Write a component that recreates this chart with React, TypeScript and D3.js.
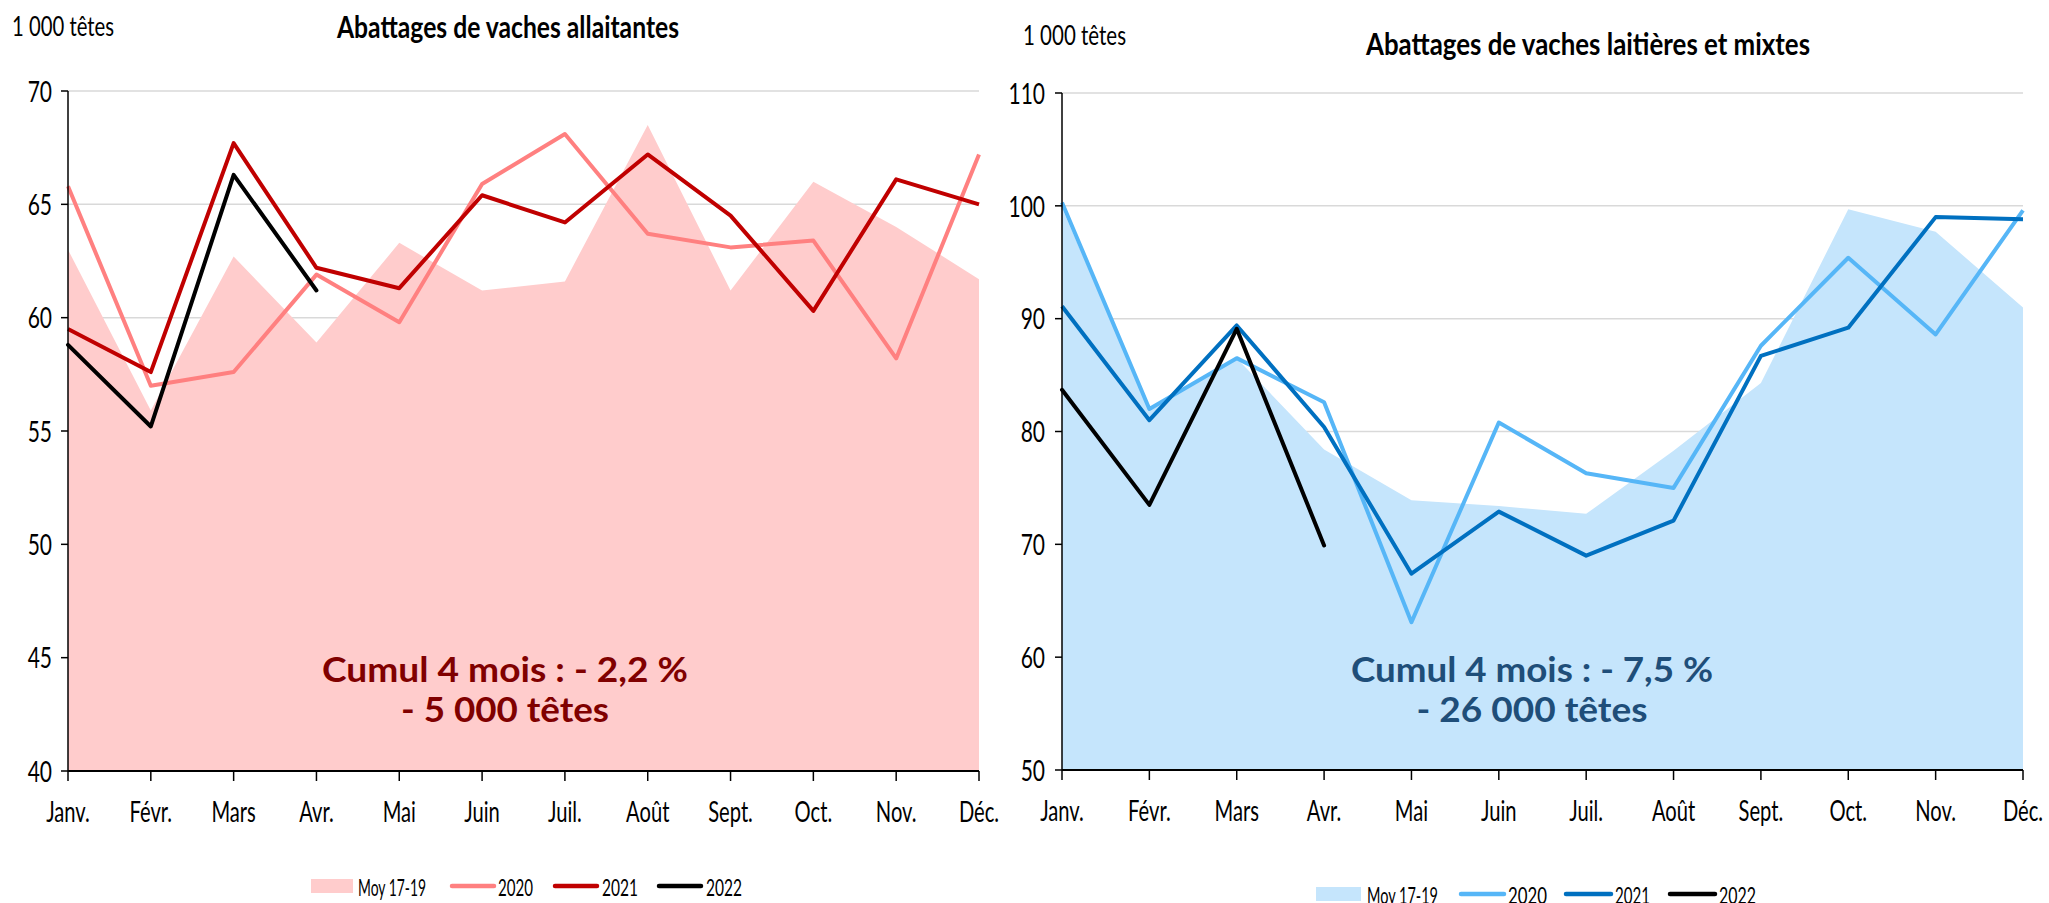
import React from "react";
import * as d3 from "d3";

const months = ["Janv.", "Févr.", "Mars", "Avr.", "Mai", "Juin", "Juil.", "Août", "Sept.", "Oct.", "Nov.", "Déc."];

// Abattages de vaches allaitantes (1 000 têtes)
const allaitMoy = [63.0, 55.9, 62.7, 58.9, 63.3, 61.2, 61.6, 68.5, 61.2, 66.0, 64.0, 61.7];
const allait2020 = [65.8, 57.0, 57.6, 61.9, 59.8, 65.9, 68.1, 63.7, 63.1, 63.4, 58.2, 67.2];
const allait2021 = [59.5, 57.6, 67.7, 62.2, 61.3, 65.4, 64.2, 67.2, 64.5, 60.3, 66.1, 65.0];
const allait2022 = [58.8, 55.2, 66.3, 61.2];
const allaitTicks = [40, 45, 50, 55, 60, 65, 70];

// Abattages de vaches laitières et mixtes (1 000 têtes)
const laitMoy = [99.8, 82.0, 86.5, 78.4, 73.9, 73.4, 72.7, 78.3, 84.3, 99.7, 97.7, 91.0];
const lait2020 = [100.3, 82.0, 86.5, 82.6, 63.1, 80.8, 76.3, 75.0, 87.6, 95.4, 88.6, 99.6];
const lait2021 = [91.1, 81.0, 89.4, 80.4, 67.4, 72.9, 69.0, 72.1, 86.7, 89.2, 99.0, 98.8];
const lait2022 = [83.7, 73.5, 89.1, 69.9];
const laitTicks = [50, 60, 70, 80, 90, 100, 110];

const legendLabels = ["Moy 17-19", "2020", "2021", "2022"];

const TICK_FONT = "Lato, 'Liberation Sans', sans-serif";
const ANN_FONT = "Lato, 'Open Sans', sans-serif";

type PanelProps = {
  x0: number; x1: number; yTop: number; yBot: number;
  domain: [number, number]; ticks: number[];
  moy: number[]; s2020: number[]; s2021: number[]; s2022: number[];
  colors: { area: string; c2020: string; c2021: string; c2022: string; ann: string };
  labelRight: number;
  unit: { x: number; y: number; w: number };
  title: { text: string; x: number; y: number; w: number };
  ann: { l1: string; l2: string; cx: number; y1: number; y2: number; w1: number; w2: number };
  legend: { y: number; items: { lx: number; lw: number; tx: number; tw: number }[] };
};

function Panel(p: PanelProps) {
  const x = d3.scalePoint<number>().domain(d3.range(12)).range([p.x0, p.x1]);
  const y = d3.scaleLinear().domain(p.domain).range([p.yBot, p.yTop]);
  const area = d3.area<number>().x((_, i) => x(i)!).y0(p.yBot).y1((d) => y(d));
  const line = d3.line<number>().x((_, i) => x(i)!).y((d) => y(d));
  const lw = 4;
  return (
    <g>
      {p.ticks.filter((t) => t !== p.domain[0]).map((t) => (
        <line key={"g" + t} x1={p.x0} x2={p.x1} y1={y(t)} y2={y(t)} stroke="#D9D9D9" strokeWidth={1.5} />
      ))}
      <path d={area(p.moy)!} fill={p.colors.area} />
      <path d={line(p.s2020)!} fill="none" stroke={p.colors.c2020} strokeWidth={lw} strokeLinejoin="round" />
      <path d={line(p.s2021)!} fill="none" stroke={p.colors.c2021} strokeWidth={lw} strokeLinejoin="round" />
      <path d={line(p.s2022)!} fill="none" stroke={p.colors.c2022} strokeWidth={lw} strokeLinejoin="round" strokeLinecap="round" />
      <line x1={p.x0} x2={p.x0} y1={p.yTop} y2={p.yBot} stroke="#000" strokeWidth={1.5} />
      <line x1={p.x0} x2={p.x1} y1={p.yBot} y2={p.yBot} stroke="#000" strokeWidth={2} />
      {p.ticks.map((t) => (
        <g key={"yt" + t}>
          <line x1={p.x0 - 7} x2={p.x0} y1={y(t)} y2={y(t)} stroke="#000" strokeWidth={1.5} />
          <text transform={`translate(${p.labelRight},${y(t)}) scale(0.75,1)`} textAnchor="end" dominantBaseline="central"
            fontFamily={TICK_FONT} fontSize={28} fill="#000">{t}</text>
        </g>
      ))}
      {months.map((m, i) => (
        <g key={"xt" + i}>
          <line x1={x(i)} x2={x(i)} y1={p.yBot} y2={p.yBot + 10} stroke="#000" strokeWidth={1.5} />
          <text transform={`translate(${x(i)},${p.yBot + 51}) scale(0.72,1)`} textAnchor="middle"
            fontFamily={TICK_FONT} fontSize={28} fill="#000">{m}</text>
        </g>
      ))}
      <text x={p.unit.x} y={p.unit.y} fontFamily={TICK_FONT} fontSize={27} textLength={p.unit.w} lengthAdjust="spacingAndGlyphs">1 000 têtes</text>
      <text x={p.title.x} y={p.title.y} fontFamily={TICK_FONT} fontWeight="bold" fontSize={31} textLength={p.title.w} lengthAdjust="spacingAndGlyphs">{p.title.text}</text>
      <text x={p.ann.cx - p.ann.w1 / 2} y={p.ann.y1} fontFamily={ANN_FONT} fontWeight="bold" fontSize={35} fill={p.colors.ann}
        textLength={p.ann.w1} lengthAdjust="spacingAndGlyphs">{p.ann.l1}</text>
      <text x={p.ann.cx - p.ann.w2 / 2} y={p.ann.y2} fontFamily={ANN_FONT} fontWeight="bold" fontSize={35} fill={p.colors.ann}
        textLength={p.ann.w2} lengthAdjust="spacingAndGlyphs">{p.ann.l2}</text>
      {p.legend.items.map((it, i) => (
        <g key={"lg" + i}>
          {i === 0 ? (
            <rect x={it.lx} y={p.legend.y - 7} width={it.lw} height={14} fill={p.colors.area} />
          ) : (
            <line x1={it.lx} x2={it.lx + it.lw} y1={p.legend.y} y2={p.legend.y}
              stroke={[p.colors.c2020, p.colors.c2021, p.colors.c2022][i - 1]} strokeWidth={4.5} strokeLinecap="round" />
          )}
          <text x={it.tx} y={p.legend.y} dominantBaseline="central" fontFamily={TICK_FONT} fontSize={24}
            textLength={it.tw} lengthAdjust="spacingAndGlyphs">{legendLabels[i]}</text>
        </g>
      ))}
    </g>
  );
}

export default function App() {
  return (
    <svg width={2049} height={903} style={{ position: "absolute", left: 0, top: 0, background: "#fff" }}>
      <rect x={0} y={0} width={2049} height={903} fill="#fff" />
      <Panel
        x0={68} x1={979} yTop={91} yBot={771} domain={[40, 70]} ticks={allaitTicks}
        moy={allaitMoy} s2020={allait2020} s2021={allait2021} s2022={allait2022}
        colors={{ area: "#FFCCCC", c2020: "#FF8080", c2021: "#C00000", c2022: "#000000", ann: "#800000" }}
        labelRight={52}
        unit={{ x: 12, y: 36, w: 102 }}
        title={{ text: "Abattages de vaches allaitantes", x: 337, y: 38, w: 342 }}
        ann={{ l1: "Cumul 4 mois : - 2,2 %", l2: "- 5 000 têtes", cx: 505, y1: 682, y2: 722, w1: 366, w2: 208 }}
        legend={{
          y: 886,
          items: [
            { lx: 311, lw: 42, tx: 358, tw: 68 },
            { lx: 452, lw: 42, tx: 498, tw: 35 },
            { lx: 555, lw: 42, tx: 602, tw: 36 },
            { lx: 659, lw: 42, tx: 706, tw: 36 },
          ],
        }}
      />
      <Panel
        x0={1062} x1={2023} yTop={93} yBot={770} domain={[50, 110]} ticks={laitTicks}
        moy={laitMoy} s2020={lait2020} s2021={lait2021} s2022={lait2022}
        colors={{ area: "#C5E5FC", c2020: "#56B6F7", c2021: "#0070C0", c2022: "#000000", ann: "#1F4E79" }}
        labelRight={1045}
        unit={{ x: 1023, y: 45, w: 103 }}
        title={{ text: "Abattages de vaches laitières et mixtes", x: 1366, y: 55, w: 444 }}
        ann={{ l1: "Cumul 4 mois : - 7,5 %", l2: "- 26 000 têtes", cx: 1532, y1: 682, y2: 722, w1: 362, w2: 231 }}
        legend={{
          y: 894,
          items: [
            { lx: 1316, lw: 45, tx: 1367, tw: 71 },
            { lx: 1461, lw: 43, tx: 1508, tw: 39 },
            { lx: 1566, lw: 45, tx: 1615, tw: 35 },
            { lx: 1670, lw: 45, tx: 1719, tw: 37 },
          ],
        }}
      />
    </svg>
  );
}
